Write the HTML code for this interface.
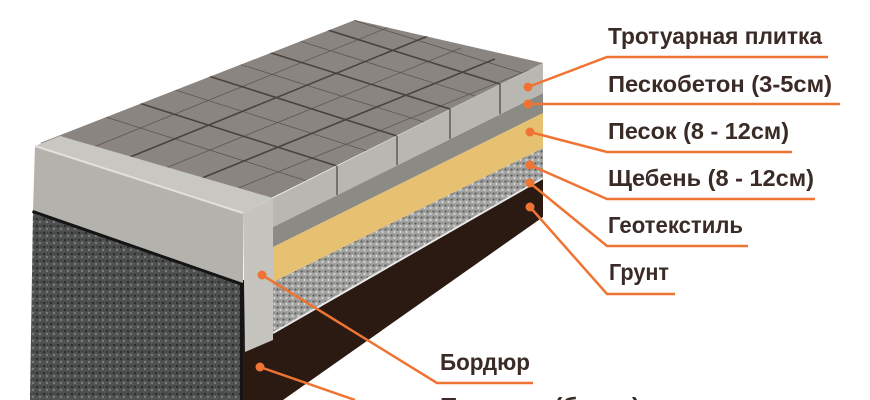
<!DOCTYPE html>
<html><head><meta charset="utf-8"><style>
html,body{margin:0;padding:0;background:#fff;}
svg{display:block;}
text{font-family:"Liberation Sans","DejaVu Sans",sans-serif;font-weight:bold;fill:#3a2b26;}
</style></head><body>
<svg width="870" height="400" viewBox="0 0 870 400" xmlns="http://www.w3.org/2000/svg">
<defs>
<pattern id="grav" width="6" height="6" patternUnits="userSpaceOnUse">
<rect width="6" height="6" fill="#a4a4a2"/>
<circle cx="1.5" cy="1.5" r="1.1" fill="#5a5a5a"/>
<circle cx="4.5" cy="4" r="1" fill="#dcdcdc"/>
<circle cx="4" cy="1" r="0.7" fill="#777"/>
</pattern>
<pattern id="base" width="7" height="7" patternUnits="userSpaceOnUse">
<rect width="7" height="7" fill="#4e5150"/>
<circle cx="2" cy="2" r="1.3" fill="#2c2e2e"/>
<circle cx="5" cy="5" r="1.2" fill="#7a7c7b"/>
<circle cx="5.5" cy="1.5" r="0.8" fill="#3a3c3c"/>
</pattern>
<clipPath id="top"><polygon points="40,143 355,20 543,63 243,212"/></clipPath>
</defs>

<!-- base concrete -->
<polygon points="33,210 243,283 245,400 30,400" fill="url(#base)"/>
<polyline points="33,210 243,283 243,400" fill="none" stroke="#151515" stroke-width="6"/>
<!-- ground -->
<polygon points="243,340 543,177 543,217 283,400 243,400" fill="#2b1a12"/>
<!-- gravel -->
<polygon points="273,282 543,148 543,177 273,332" fill="url(#grav)"/>
<line x1="273" y1="333" x2="543" y2="178" stroke="#e8e8e8" stroke-width="2"/>
<!-- sand -->
<polygon points="273,247 543,113 543,148 273,282" fill="#e6c172"/>
<!-- peskobeton -->
<polygon points="273,227 543,93 543,113 273,247" fill="#8c8a85"/>
<!-- paver side -->
<polygon points="273,198 543,63 543,93 273,227" fill="#b9b7b2"/>
<g stroke="#5e5a56" stroke-width="1.5">
<line x1="337" y1="166" x2="337" y2="195"/>
<line x1="397" y1="136" x2="397" y2="165"/>
<line x1="450" y1="109" x2="450" y2="139"/>
<line x1="500" y1="84" x2="500" y2="114"/>
</g>
<!-- curb front -->
<polygon points="35,146 243,213 243,283 33,210" fill="#b4b2ad"/>
<!-- curb end -->
<polygon points="243,213 273,198 273,340 245,352" fill="#c6c4bf"/>
<!-- top surface -->
<polygon points="40,143 355,20 543,63 243,212" fill="#8b8581"/>
<g clip-path="url(#top)" stroke="#4a423d" fill="none">
<g stroke-width="1.6">
<line x1="337" y1="166" x2="117" y2="96"/>
<line x1="397" y1="136" x2="177" y2="66"/>
<line x1="450" y1="109" x2="230" y2="40"/>
<line x1="500" y1="84" x2="280" y2="15"/>
<line x1="108" y1="166" x2="428" y2="36"/>
<line x1="175" y1="189" x2="495" y2="59"/>
</g>
<g stroke-width="0.8" opacity="0.7">
<line x1="74" y1="155" x2="394" y2="25"/>
<line x1="141" y1="178" x2="461" y2="48"/>
<line x1="209" y1="200" x2="529" y2="70"/>
<line x1="307" y1="181" x2="87" y2="111"/>
<line x1="367" y1="151" x2="147" y2="81"/>
<line x1="424" y1="122" x2="204" y2="53"/>
<line x1="475" y1="96" x2="255" y2="27"/>
<line x1="522" y1="73" x2="302" y2="4"/>
</g>
</g>
<!-- curb top strip -->
<polygon points="35,146 243,213 273,198 60,136" fill="#c9c7c2"/>
<line x1="35" y1="146" x2="243" y2="213" stroke="#e2e0dc" stroke-width="2"/>

<!-- leaders -->
<g stroke="#ef7433" stroke-width="2.5" fill="none">
<polyline points="528,87 607,57 828,57"/>
<polyline points="528,104 840,104"/>
<polyline points="530,132 607,152 792,152"/>
<polyline points="530,165 607,199 815,199"/>
<polyline points="530,183 607,246 748,246"/>
<polyline points="530,207 607,294 675,294"/>
<polyline points="262,275 437,383 533,383"/>
<polyline points="260,367 355,400"/>
</g>
<g fill="#ef7433">
<circle cx="528" cy="87" r="4.5"/><circle cx="528" cy="104" r="4.5"/>
<circle cx="530" cy="132" r="4.5"/><circle cx="530" cy="165" r="4.5"/>
<circle cx="530" cy="183" r="4.5"/><circle cx="530" cy="207" r="4.5"/>
<circle cx="262" cy="275" r="4.5"/><circle cx="260" cy="367" r="4.5"/>
</g>

<g font-size="23">
<text x="608" y="44" textLength="214" lengthAdjust="spacingAndGlyphs">Тротуарная плитка</text>
<text x="608" y="92" textLength="224" lengthAdjust="spacingAndGlyphs">Пескобетон (3-5см)</text>
<text x="608" y="139" textLength="181" lengthAdjust="spacingAndGlyphs">Песок (8 - 12см)</text>
<text x="608" y="186" textLength="206" lengthAdjust="spacingAndGlyphs">Щебень (8 - 12см)</text>
<text x="608" y="233" textLength="135" lengthAdjust="spacingAndGlyphs">Геотекстиль</text>
<text x="609" y="280" textLength="60" lengthAdjust="spacingAndGlyphs">Грунт</text>
<text x="440" y="370" textLength="90" lengthAdjust="spacingAndGlyphs">Бордюр</text>
<text x="440" y="414" textLength="200" lengthAdjust="spacingAndGlyphs">Подушка (бетон)</text>
</g>
</svg>
</body></html>
